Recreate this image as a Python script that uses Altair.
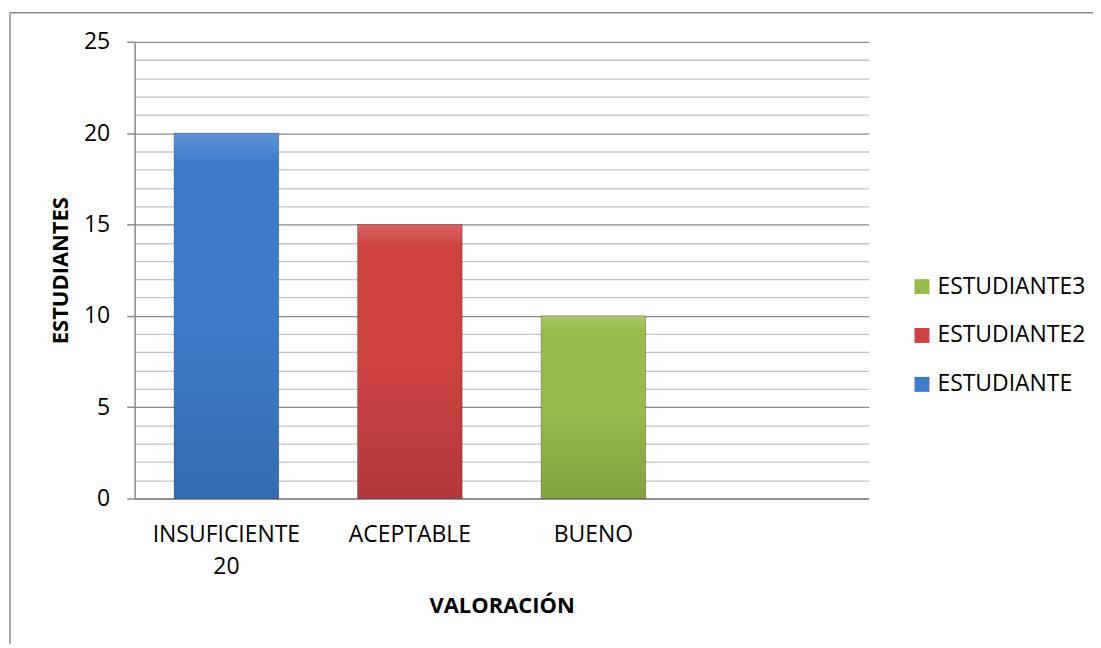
import altair as alt
import pandas as pd

# ---- data ----
categories = ["INSUFICIENTE 20", "ACEPTABLE", "BUENO"]
slots = ["INSUFICIENTE 20", "ACEPTABLE", "BUENO", " "]
values = [20, 15, 10]
series = ["ESTUDIANTE", "ESTUDIANTE2", "ESTUDIANTE3"]
legend_order = ["ESTUDIANTE3", "ESTUDIANTE2", "ESTUDIANTE"]
legend_colors = ["#98BC4C", "#CF4242", "#3D7CCB"]
y_ticks = list(range(0, 26))

df = pd.DataFrame({"cat": categories, "val": values, "serie": series})
FONT = "Open Sans"

xscale = alt.Scale(domain=slots, paddingInner=0.43, paddingOuter=0.215)
yscale = alt.Scale(domain=[0, 25], nice=False)

x_axis = alt.Axis(
    title="VALORACIÓN",
    labelExpr="split(datum.value, ' ')",
    labelAngle=0,
    ticks=False,
    tickSize=0,
    labelPadding=43,
    labelBaseline="alphabetic",
    labelLineHeight=32,
    labelFontSize=23,
    labelFont=FONT,
    labelColor="#000000",
    domainColor="#8a8a8a",
    domainWidth=1.5,
    titleFont=FONT,
    titleFontSize=22,
    titleFontWeight="bold",
    titleColor="#000000",
    titleY=114,
    titleBaseline="alphabetic",
    grid=False,
)

y_axis = alt.Axis(
    title="ESTUDIANTES",
    values=y_ticks,
    labelExpr="datum.value % 5 === 0 ? datum.label : ''",
    labelOverlap=False,
    labelFlush=False,
    labelFont=FONT,
    labelFontSize=23,
    labelColor="#000000",
    labelPadding=17,
    tickSize=8,
    tickWidth=1.5,
    tickColor={"condition": {"test": "datum.value % 5 === 0", "value": "#8a8a8a"}, "value": "transparent"},
    grid=True,
    gridColor={"condition": {"test": "datum.value % 5 === 0", "value": "#8a8a8a"}, "value": "#c4c4c4"},
    gridWidth=1.3,
    domainColor="#8a8a8a",
    domainWidth=1.5,
    titleFont=FONT,
    titleFontSize=22,
    titleFontWeight="bold",
    titleColor="#000000",
    titleX=-67,
    titleBaseline="alphabetic",
)

X = alt.X("cat:N", scale=xscale, axis=x_axis)
Y = alt.Y("val:Q", scale=yscale, axis=y_axis)

bars = alt.Chart(df).mark_bar().encode(
    x=X,
    y=Y,
    color=alt.Color(
        "serie:N",
        scale=alt.Scale(domain=legend_order, range=legend_colors),
        legend=alt.Legend(
            title=None,
            orient="none",
            legendX=778,
            legendY=234,
            symbolType="square",
            symbolSize=225,
            symbolStrokeWidth=0,
            labelFont=FONT,
            labelFontSize=23,
            labelColor="#000000",
            labelOffset=4,
            rowPadding=25,
            padding=0,
        ),
    ),
)

shade = alt.Chart(df).mark_bar(
    color=alt.Gradient(
        gradient="linear",
        stops=[
            alt.GradientStop(color="rgba(255,255,255,0.18)", offset=0),
            alt.GradientStop(color="rgba(255,255,255,0.0)", offset=0.08),
            alt.GradientStop(color="rgba(0,0,0,0.0)", offset=0.5),
            alt.GradientStop(color="rgba(0,0,0,0.14)", offset=1),
        ],
        x1=0, x2=0, y1=0, y2=1,
    ),
    stroke="rgba(0,0,0,0.25)",
    strokeWidth=1,
).encode(x=X, y=Y)

frame_top = alt.Chart(alt.Data(values=[{}])).mark_rule(color="#8c8c8c", strokeWidth=1.5).encode(
    x=alt.value(-125), x2=alt.value(980), y=alt.value(-29)
)
frame_left = alt.Chart(alt.Data(values=[{}])).mark_rule(color="#8c8c8c", strokeWidth=1.5).encode(
    x=alt.value(-125), y=alt.value(-29), y2=alt.value(620)
)

chart = alt.layer(bars, shade, frame_top, frame_left).properties(
    width=736,
    height=458,
    padding={"left": 127, "top": 33, "right": 225, "bottom": 145},
    autosize=alt.AutoSizeParams(type="none"),
    background="white",
).configure_view(strokeWidth=0)

chart.save("out.html", embed_options={"renderer": "svg", "actions": False})
